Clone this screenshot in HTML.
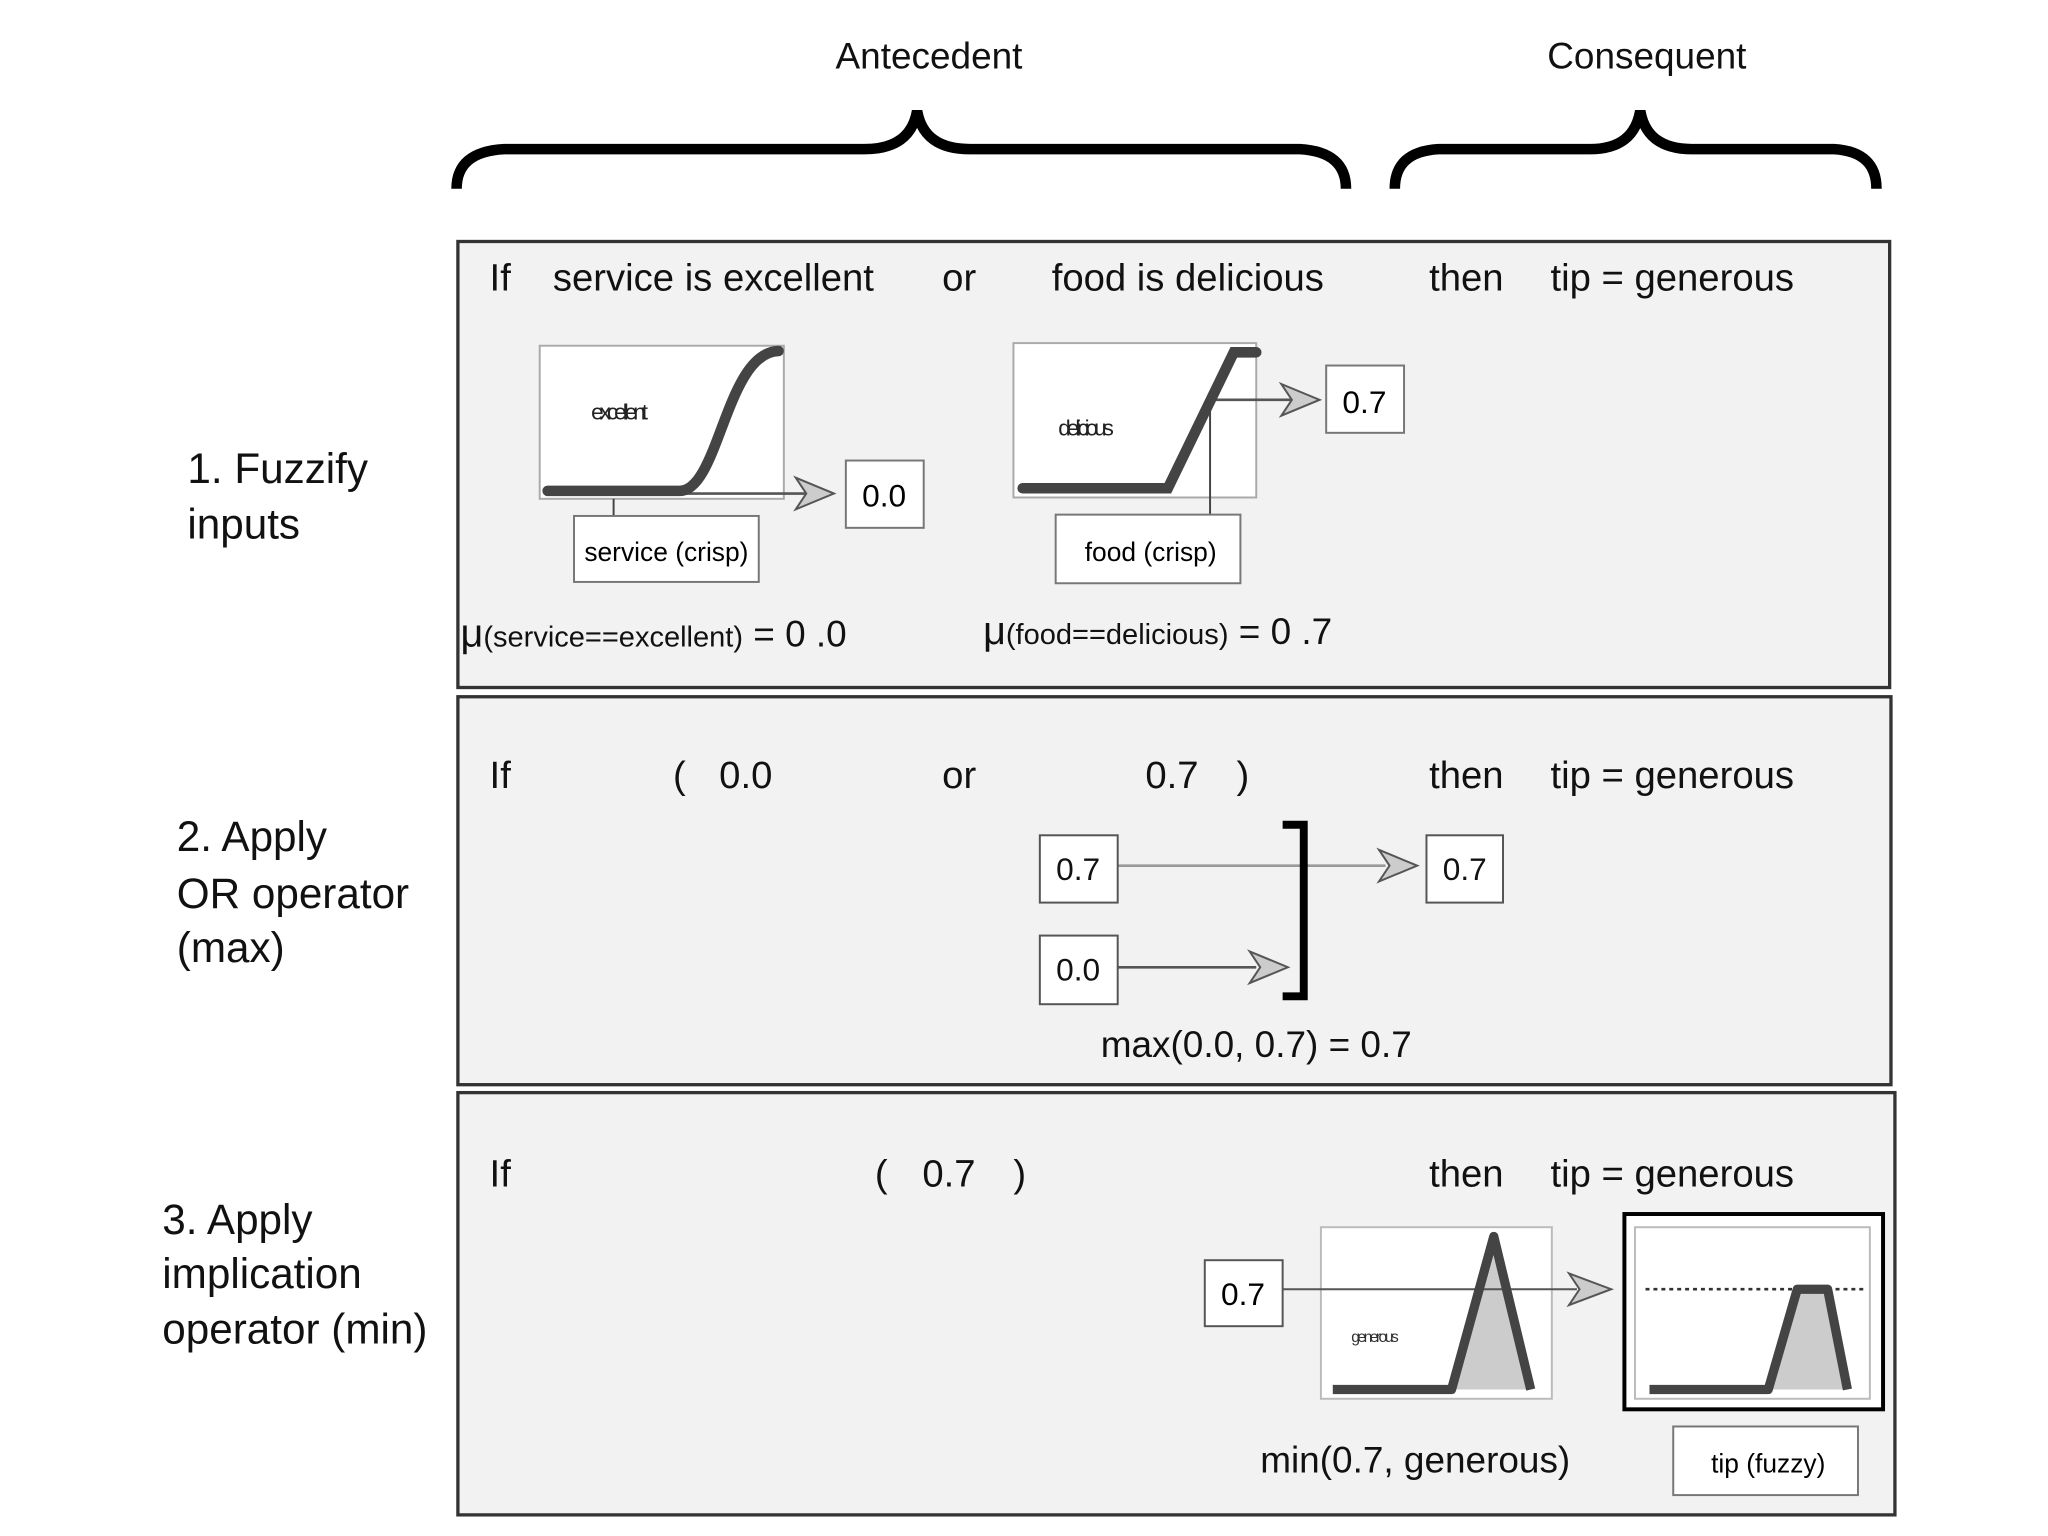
<!DOCTYPE html>
<html><head><meta charset="utf-8"><style>
html,body{margin:0;padding:0;background:#fff;}
svg{display:block;font-family:"Liberation Sans",sans-serif;}
</style></head><body>
<svg width="2048" height="1536" viewBox="0 0 1552 1164" preserveAspectRatio="none" xmlns="http://www.w3.org/2000/svg">
<rect width="1552" height="1164" fill="#fff"/>
<!-- headers -->
<g font-size="28" fill="#111" text-anchor="middle">
<text x="704" y="52">Antecedent</text>
<text x="1248" y="52">Consequent</text>
</g>
<g fill="none" stroke="#000" stroke-width="8">
<path d="M346,143 Q346,115 382,113 L655,113 Q690,113 695,84 Q700,113 735,113 L985,113 Q1020,115 1020,143"/>
<path d="M1057,143 Q1057,115 1090,113 L1205,113 Q1238,113 1243,84 Q1248,113 1282,113 L1390,113 Q1422,115 1422,143"/>
</g>
<!-- panels -->
<g fill="#f2f2f2" stroke="#333" stroke-width="2.5">
<rect x="347" y="183" width="1085" height="338"/>
<rect x="347" y="528" width="1086" height="294"/>
<rect x="347" y="828" width="1089" height="320"/>
</g>
<!-- left labels -->
<g font-size="32" fill="#111">
<text x="142" y="366">1. Fuzzify</text><text x="142" y="408">inputs</text>
<text x="134" y="645">2. Apply</text><text x="134" y="688">OR operator</text><text x="134" y="729">(max)</text>
<text x="123" y="935">3. Apply</text><text x="123" y="976">implication</text><text x="123" y="1018">operator (min)</text>
</g>
<!-- rows -->
<g font-size="29" fill="#111">
<text x="371" y="220">If</text><text x="419" y="220">service is excellent</text><text x="714" y="220">or</text><text x="797" y="220">food is delicious</text><text x="1083" y="220">then</text><text x="1175" y="220">tip = generous</text>
<text x="371" y="597">If</text><text x="510" y="597">(</text><text x="545" y="597">0.0</text><text x="714" y="597">or</text><text x="868" y="597">0.7</text><text x="937" y="597">)</text><text x="1083" y="597">then</text><text x="1175" y="597">tip = generous</text>
<text x="371" y="899">If</text><text x="663" y="899">(</text><text x="699" y="899">0.7</text><text x="768" y="899">)</text><text x="1083" y="899">then</text><text x="1175" y="899">tip = generous</text>
</g>
<!-- panel 1 -->
<rect x="409" y="262" width="185" height="116" fill="#fff" stroke="#aaa" stroke-width="1.5"/>
<line x1="465" y1="378" x2="465" y2="391" stroke="#444" stroke-width="1.5"/>
<line x1="515" y1="374" x2="612" y2="374" stroke="#555" stroke-width="2"/>
<path d="M415,372 L515,372 C545,372 550,267 590,266" fill="none" stroke="#444" stroke-width="8" stroke-linecap="round"/>
<text x="448" y="318" font-size="17" letter-spacing="-3" fill="#222">excellent</text>
<polygon points="603,362 632,374 603,386 611,374" fill="#ccc" stroke="#555" stroke-width="1.5"/>
<rect x="641" y="349" width="59" height="51" fill="#fff" stroke="#777" stroke-width="1.5"/>
<text x="670" y="384" font-size="24" text-anchor="middle">0.0</text>
<rect x="435" y="391" width="140" height="50" fill="#fff" stroke="#777" stroke-width="1.5"/>
<text x="505" y="425" font-size="20" text-anchor="middle">service (crisp)</text>

<rect x="768" y="260" width="184" height="117" fill="#fff" stroke="#aaa" stroke-width="1.5"/>
<line x1="917" y1="303" x2="917" y2="390" stroke="#444" stroke-width="1.5"/>
<line x1="920" y1="303" x2="980" y2="303" stroke="#555" stroke-width="2"/>
<path d="M775,370 L885,370 L935,267 L952,267" fill="none" stroke="#444" stroke-width="8" stroke-linecap="round"/>
<text x="802" y="330" font-size="17" letter-spacing="-3" fill="#222">delicious</text>
<polygon points="971,291 1000,303 971,315 979,303" fill="#ccc" stroke="#555" stroke-width="1.5"/>
<rect x="1005" y="277" width="59" height="51" fill="#fff" stroke="#777" stroke-width="1.5"/>
<text x="1034" y="313" font-size="24" text-anchor="middle">0.7</text>
<rect x="800" y="390" width="140" height="52" fill="#fff" stroke="#777" stroke-width="1.5"/>
<text x="872" y="425" font-size="20" text-anchor="middle">food (crisp)</text>

<text x="349" y="490" fill="#111"><tspan font-size="30">μ</tspan><tspan font-size="22">(service==excellent)</tspan><tspan font-size="28"> = 0 .0</tspan></text>
<text x="745" y="488" fill="#111"><tspan font-size="30">μ</tspan><tspan font-size="22">(food==delicious)</tspan><tspan font-size="28"> = 0 .7</tspan></text>

<!-- panel 2 -->
<line x1="847" y1="656" x2="1050" y2="656" stroke="#999" stroke-width="2"/>
<line x1="847" y1="733" x2="952" y2="733" stroke="#555" stroke-width="2"/>
<polygon points="1045,644 1074,656 1045,668 1053,656" fill="#ccc" stroke="#555" stroke-width="1.5"/>
<polygon points="947,721 976,733 947,745 955,733" fill="#ccc" stroke="#555" stroke-width="1.5"/>
<path d="M972,625 L988,625 L988,755 L972,755" fill="none" stroke="#000" stroke-width="6"/>
<g fill="#fff" stroke="#555" stroke-width="1.5">
<rect x="788" y="633" width="59" height="51"/><rect x="788" y="709" width="59" height="52"/><rect x="1081" y="633" width="58" height="51"/>
</g>
<g font-size="24" text-anchor="middle" fill="#111">
<text x="817" y="667">0.7</text><text x="817" y="743">0.0</text><text x="1110" y="667">0.7</text>
</g>
<text x="952" y="801" font-size="28" text-anchor="middle" fill="#111">max(0.0, 0.7) = 0.7</text>

<!-- panel 3 -->
<rect x="1001" y="930" width="175" height="130" fill="#fff" stroke="#bbb" stroke-width="1.5"/>
<polygon points="1100,1053 1132,937 1160,1053" fill="#ccc"/>
<line x1="972" y1="977" x2="1195" y2="977" stroke="#555" stroke-width="1.5"/>
<path d="M1010,1053 L1100,1053 L1132,937 L1160,1053" fill="none" stroke="#444" stroke-width="7" stroke-linejoin="round"/>
<text x="1024" y="1017" font-size="12" letter-spacing="-2" fill="#333">generous</text>
<polygon points="1189,965 1221,977 1189,989 1197,977" fill="#ccc" stroke="#555" stroke-width="1.5"/>
<rect x="913" y="955" width="59" height="50" fill="#fff" stroke="#555" stroke-width="1.5"/>
<text x="942" y="989" font-size="24" text-anchor="middle">0.7</text>
<rect x="1231" y="920" width="196" height="148" fill="#fff" stroke="#000" stroke-width="3"/>
<rect x="1239" y="930" width="178" height="130" fill="#fff" stroke="#bbb" stroke-width="1.5"/>
<polygon points="1340,1053 1362,977 1385,977 1400,1053" fill="#ccc"/>
<line x1="1247" y1="977" x2="1413" y2="977" stroke="#333" stroke-width="2" stroke-dasharray="3,3"/>
<path d="M1250,1053 L1340,1053 L1362,977 L1385,977 L1400,1053" fill="none" stroke="#444" stroke-width="7" stroke-linejoin="round"/>
<text x="955" y="1116" font-size="28" fill="#111">min(0.7, generous)</text>
<rect x="1268" y="1081" width="140" height="52" fill="#fff" stroke="#777" stroke-width="1.5"/>
<text x="1340" y="1116" font-size="20" text-anchor="middle">tip (fuzzy)</text>
</svg>
</body></html>
